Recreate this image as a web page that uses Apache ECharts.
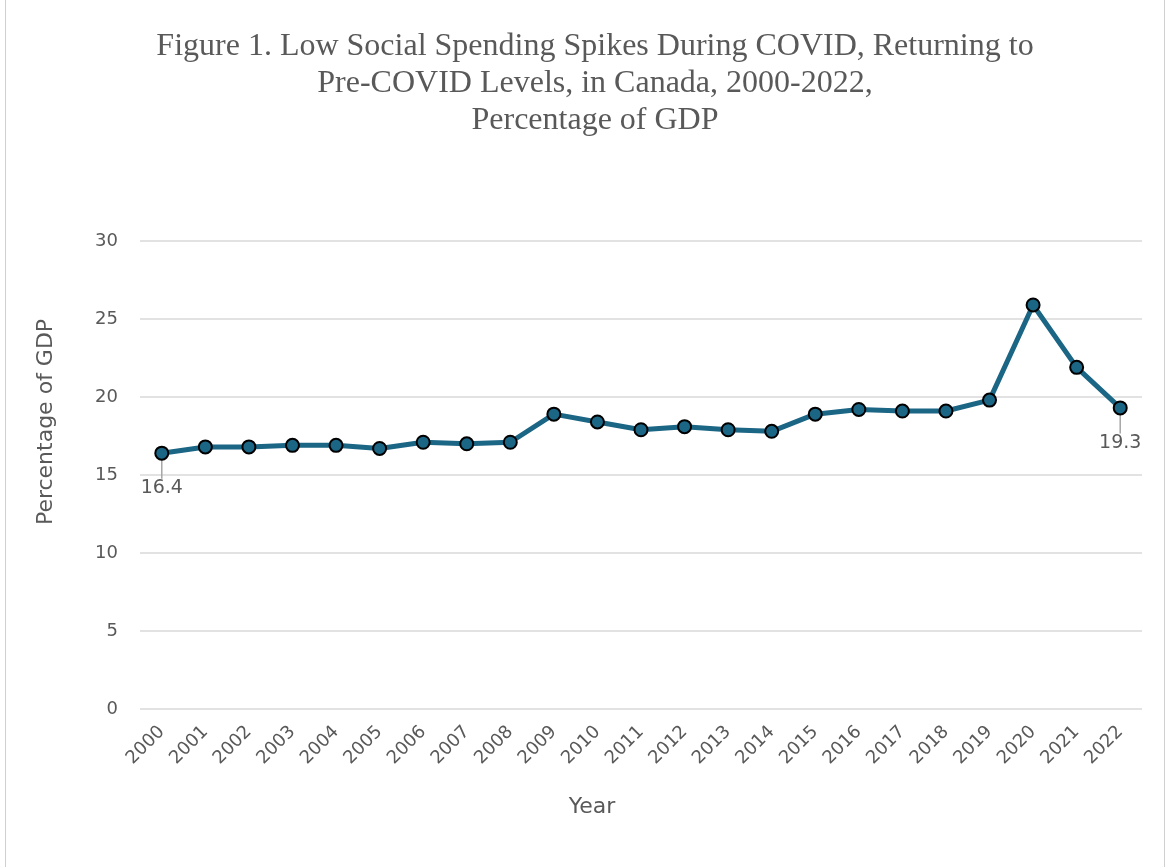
<!DOCTYPE html>
<html>
<head>
<meta charset="utf-8">
<script src="https://cdn.jsdelivr.net/npm/echarts@6/dist/echarts.min.js"></script>
<style>
    html, body {
        margin: 0;
        padding: 0;
        background: #ffffff;
    }
    #chart {
        position: absolute;
        left: 0;
        top: 0;
        width: 1168px;
        height: 867px;
    }
    .frame {
        position: absolute;
        left: 5px;
        top: -2px;
        width: 1158px;
        height: 880px;
        border-left: 1px solid #d0d0d0;
        border-right: 1px solid #d0d0d0;
        pointer-events: none;
    }
</style>
</head>
<body>
<div id="chart"></div>
<div class="frame"></div>
<script>
// categories (years)
const years = ['2000', '2001', '2002', '2003', '2004', '2005', '2006', '2007', '2008', '2009', '2010',
    '2011', '2012', '2013', '2014', '2015', '2016', '2017', '2018', '2019', '2020', '2021', '2022'];
// low social spending, % of GDP
const spending = [16.4, 16.8, 16.8, 16.9, 16.9, 16.7, 17.1, 17.0, 17.1, 18.9, 18.4,
    17.9, 18.1, 17.9, 17.8, 18.9, 19.2, 19.1, 19.1, 19.8, 25.9, 21.9, 19.3];
// y axis ticks
const yTicks = [0, 5, 10, 15, 20, 25, 30];

const textColor = '#595959';
const lineColor = '#1b6585';
const sans = 'DejaVu Sans';

let myChart = echarts.init(document.getElementById('chart'));

// only first and last point carry a label
let seriesData = spending.map(function (v, i) {
    if (i === 0 || i === spending.length - 1) {
        return {
            value: v,
            label: { show: true },
            labelLine: { show: true }
        };
    }
    return v;
});

let option = {
    animation: false,
    title: {
        text: 'Figure 1. Low Social Spending Spikes During COVID, Returning to\nPre-COVID Levels, in Canada, 2000-2022,\nPercentage of GDP',
        left: 590,
        top: 23,
        textAlign: 'center',
        textStyle: {
            fontFamily: 'Liberation Serif',
            fontWeight: 'normal',
            fontSize: 32,
            lineHeight: 37,
            color: textColor
        }
    },
    grid: {
        left: 140,
        right: 26,
        top: 241,
        bottom: 158,
        containLabel: false
    },
    xAxis: {
        type: 'category',
        data: years,
        boundaryGap: true,
        name: 'Year',
        nameLocation: 'middle',
        nameGap: 87,
        nameTextStyle: {
            fontFamily: sans,
            fontSize: 22,
            color: textColor,
            padding: [0, 98, 0, 0]
        },
        axisLine: { show: false },
        axisTick: { show: false },
        axisLabel: {
            interval: 0,
            rotate: 45,
            margin: 20,
            fontFamily: sans,
            fontSize: 18,
            color: textColor
        }
    },
    yAxis: {
        type: 'value',
        min: yTicks[0],
        max: yTicks[yTicks.length - 1],
        interval: yTicks[1] - yTicks[0],
        name: 'Percentage of GDP',
        nameLocation: 'middle',
        nameGap: 83,
        nameTextStyle: {
            fontFamily: sans,
            fontSize: 22,
            color: textColor,
            padding: [0, 0, 0, 106]
        },
        axisLine: { show: false },
        axisTick: { show: false },
        splitLine: {
            lineStyle: { color: '#d9d9d9', width: 1.5 }
        },
        axisLabel: {
            margin: 22,
            fontFamily: sans,
            fontSize: 18,
            color: textColor
        }
    },
    series: [
        {
            type: 'line',
            data: seriesData,
            symbol: 'circle',
            symbolSize: 13,
            lineStyle: { color: lineColor, width: 5 },
            itemStyle: {
                color: lineColor,
                borderColor: '#000000',
                borderWidth: 2
            },
            label: {
                show: false,
                position: 'bottom',
                distance: 5,
                fontFamily: sans,
                fontSize: 19,
                color: textColor
            },
            labelLayout: {
                dy: 13
            },
            labelLine: {
                show: false,
                lineStyle: { color: '#a6a6a6', width: 1.5 }
            }
        }
    ]
};

myChart.setOption(option);
window.addEventListener('resize', function () {
    myChart.resize();
});
</script>
</body>
</html>
